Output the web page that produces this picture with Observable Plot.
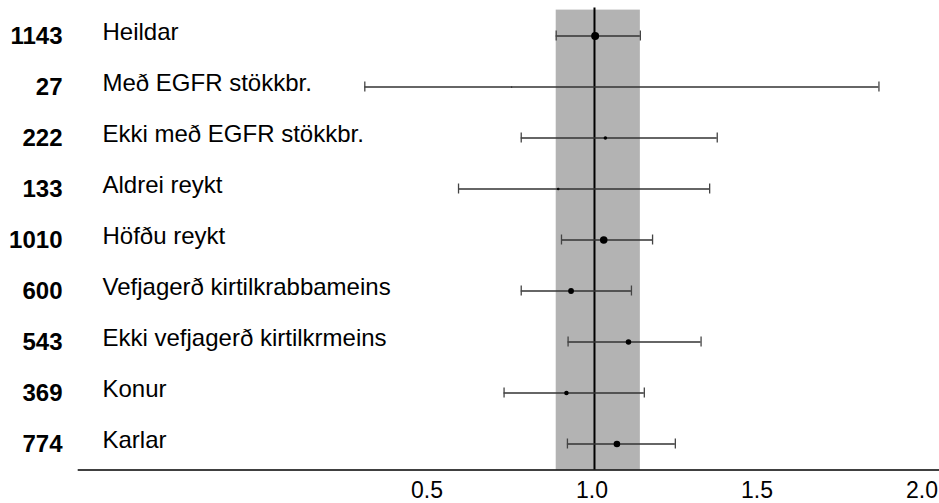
<!DOCTYPE html>
<html>
<head>
<meta charset="utf-8">
<script src="https://cdn.jsdelivr.net/npm/d3@7"></script>
<script src="https://cdn.jsdelivr.net/npm/@observablehq/plot@0.6"></script>
<style>
  html, body { margin: 0; padding: 0; background: #fff; }
</style>
</head>
<body>
<div id="chart"></div>
<script>
// Subgroups (top to bottom)
const categories = [
  "Heildar",
  "Með EGFR stökkbr.",
  "Ekki með EGFR stökkbr.",
  "Aldrei reykt",
  "Höfðu reykt",
  "Vefjagerð kirtilkrabbameins",
  "Ekki vefjagerð kirtilkrmeins",
  "Konur",
  "Karlar"
];
// Number of patients in each subgroup
const counts = [1143, 27, 222, 133, 1010, 600, 543, 369, 774];
// Point estimates and confidence interval bounds
const estimates = [1.002, 0.749, 1.033, 0.890, 1.028, 0.929, 1.103, 0.915, 1.068];
const lower     = [0.884, 0.304, 0.778, 0.588, 0.900, 0.778, 0.920, 0.726, 0.918];
const upper     = [1.139, 1.862, 1.372, 1.349, 1.176, 1.112, 1.323, 1.151, 1.245];
// Axis ticks and the line of no effect
const xTicks = [0.5, 1.0, 1.5, 2.0];
const referenceValue = [1];

const rows = categories.map((cat, i) => ({
  cat, n: counts[i], est: estimates[i], lo: lower[i], hi: upper[i]
}));
const overallBand = [{lo: lower[0], hi: upper[0]}];

const font = "'Liberation Sans', Arial, Helvetica, sans-serif";

const chart = Plot.plot({
  width: 939,
  height: 503,
  marginLeft: 78,
  marginRight: 0,
  marginTop: 9.6,
  marginBottom: 33.5,
  style: {fontFamily: font, background: "#fff", color: "#000"},
  x: {domain: [-0.5636, 2.0455], label: null},
  y: {type: "band", domain: categories, padding: 0, axis: null, label: null},
  r: {range: [0, 4]},
  marks: [
    Plot.rectX(overallBand, {x1: "lo", x2: "hi", fill: "#b3b3b3"}),
    Plot.ruleX(referenceValue, {stroke: "#000", strokeWidth: 2, insetTop: -2}),
    Plot.ruleY(rows, {y: "cat", x1: "lo", x2: "hi", stroke: "#333", strokeWidth: 1.3}),
    Plot.tickX(rows, {y: "cat", x: "lo", stroke: "#444", strokeWidth: 1.3, insetTop: 20.5, insetBottom: 20.5}),
    Plot.tickX(rows, {y: "cat", x: "hi", stroke: "#444", strokeWidth: 1.3, insetTop: 20.5, insetBottom: 20.5}),
    Plot.dot(rows, {y: "cat", x: "est", r: "n", fill: "#000", stroke: null}),
    Plot.text(rows, {y: "cat", text: d => String(d.n), frameAnchor: "left", dx: -16, dy: 0.5, textAnchor: "end",
      fontWeight: "bold", fontSize: 24, fill: "#000"}),
    Plot.text(rows, {y: "cat", text: "cat", frameAnchor: "left", dx: 24, dy: -3.5, textAnchor: "start",
      fontSize: 24, fill: "#000"}),
    Plot.frame({anchor: "bottom", stroke: "#000", strokeWidth: 1.6}),
    Plot.axisX({ticks: xTicks, tickSize: 0, tickPadding: 12, tickFormat: d3.format(".1f"),
      fontSize: 23, dx: -2.5, fill: "#000", label: null})
  ]
});
document.getElementById("chart").appendChild(chart);
</script>
</body>
</html>
